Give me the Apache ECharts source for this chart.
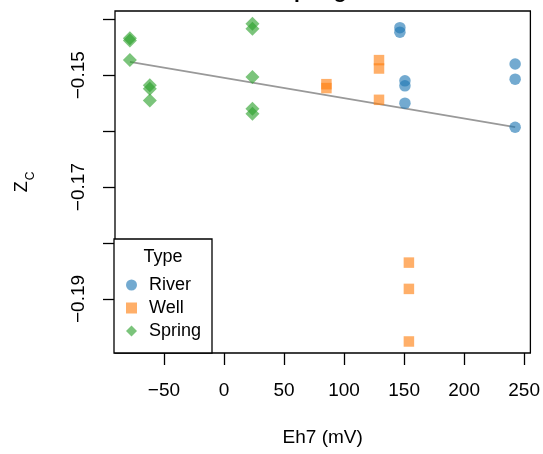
<!DOCTYPE html>
<html>
<head>
<meta charset="utf-8">
<script src="https://cdn.jsdelivr.net/npm/echarts@6/dist/echarts.min.js"></script>
<style>
html,body{margin:0;padding:0;background:#fff;}
#chart{width:543px;height:454px;}
</style>
</head>
<body>
<div id="chart"></div>
<script>
// ---- data ----
const riverX = [146.5, 146.5, 150.7, 150.7, 150.7, 242.5, 242.5, 242.5];
const riverZ = [-0.1415, -0.1423, -0.1510, -0.1519, -0.1550, -0.1480, -0.1507, -0.1593];
const wellX = [85.3, 85.3, 129.1, 129.1, 129.1, 154.0, 154.0, 154.0];
const wellZ = [-0.1516, -0.1523, -0.1473, -0.1488, -0.1544, -0.1835, -0.1882, -0.1976];
const springX = [-78.4, -78.4, -78.4, -61.8, -61.8, -61.8, 23.7, 23.7, 23.7, 23.7, 23.7];
const springZ = [-0.1434, -0.1438, -0.1473, -0.1518, -0.1524, -0.1545, -0.1408, -0.1417, -0.1503, -0.1560, -0.1569];
const fitX = [-78.4, 242.5];
const fitZ = [-0.1476, -0.1593];
const xTicks = [-50, 0, 50, 100, 150, 200, 250];
const yTicks = [-0.19, -0.18, -0.17, -0.16, -0.15, -0.14];
const yLabels = [-0.19, -0.17, -0.15];
const seriesNames = ['River', 'Well', 'Spring'];
const titleText = 'Spring';

const FONT = '"Liberation Sans", Arial, Helvetica, sans-serif';
const minus = v => String(v).replace('-', '\u2212');
const pairs = (xs, ys) => xs.map((x, i) => [x, ys[i]]);

const chart = echarts.init(document.getElementById('chart'));
chart.setOption({
  animation: false,
  backgroundColor: '#fff',
  textStyle: { fontFamily: FONT },
  title: {
    text: titleText, left: 280, top: -18, padding: 0,
    textStyle: { fontSize: 21, fontWeight: 'bold', color: '#000', fontFamily: FONT }
  },
  grid: {
    left: 115, right: 10, top: 11, bottom: 101,
    show: true, borderColor: '#000', borderWidth: 1.3, backgroundColor: 'transparent'
  },
  xAxis: {
    type: 'value', min: -90.8, max: 255.2,
    axisLine: { show: false, onZero: false },
    splitLine: { show: false },
    axisTick: { show: true, inside: false, length: 12, customValues: xTicks, lineStyle: { color: '#000', width: 1.3 } },
    axisLabel: { customValues: xTicks, fontSize: 19, color: '#000', margin: 28, fontFamily: FONT, formatter: minus },
    name: 'Eh7 (mV)', nameLocation: 'middle', nameGap: 75,
    nameTextStyle: { fontSize: 19, color: '#000', fontFamily: FONT }
  },
  yAxis: {
    type: 'value', min: -0.19966, max: -0.13852,
    axisLine: { show: false, onZero: false },
    splitLine: { show: false },
    axisTick: { show: true, inside: false, length: 12, customValues: yTicks, lineStyle: { color: '#000', width: 1.3 } },
    axisLabel: { customValues: yLabels, rotate: 90, fontSize: 19, color: '#000', margin: 27, fontFamily: FONT, formatter: v => minus(v.toFixed(2)) },
    name: '{z|Z}{c|C}', nameLocation: 'middle', nameGap: 82, nameRotate: 90,
    nameTextStyle: {
      color: '#000', fontFamily: FONT,
      rich: {
        z: { fontSize: 18, lineHeight: 20, verticalAlign: 'top', color: '#000', fontFamily: FONT },
        c: { fontSize: 12, lineHeight: 12, padding: [12, 0, 0, 1], verticalAlign: 'top', color: '#000', fontFamily: FONT }
      }
    }
  },
  legend: {
    orient: 'vertical', left: 126, top: 276, padding: 0, z: 10,
    itemWidth: 11, itemHeight: 11, itemGap: 5,
    data: [
      { name: seriesNames[0], icon: 'circle' },
      { name: seriesNames[1], icon: 'rect' },
      { name: seriesNames[2], icon: 'diamond' }
    ],
    textStyle: { fontSize: 18, color: '#000', fontFamily: FONT, padding: [0, 0, 0, 7] }
  },
  graphic: [
    { type: 'rect', shape: { x: 114, y: 239, width: 98, height: 114 },
      style: { fill: '#fff', stroke: '#000', lineWidth: 1.3 }, z: 5, silent: true },
    { type: 'text', x: 163, y: 257, z: 6, silent: true,
      style: { text: 'Type', fontSize: 18, fill: '#000', fontFamily: FONT, align: 'center', verticalAlign: 'middle' } }
  ],
  series: [
    { type: 'line', name: 'fit', data: pairs(fitX, fitZ), symbol: 'none', silent: true,
      lineStyle: { color: '#999', width: 1.8 }, z: 1 },
    { type: 'scatter', name: seriesNames[0], data: pairs(riverX, riverZ), symbol: 'circle', symbolSize: 11.5,
      itemStyle: { color: 'rgba(31,119,180,0.78)' }, z: 2 },
    { type: 'scatter', name: seriesNames[1], data: pairs(wellX, wellZ), symbol: 'rect', symbolSize: 10.5,
      itemStyle: { color: 'rgba(255,127,14,0.78)' }, z: 2 },
    { type: 'scatter', name: seriesNames[2], data: pairs(springX, springZ), symbol: 'diamond', symbolSize: 14,
      itemStyle: { color: 'rgba(44,160,44,0.78)' }, z: 2 }
  ]
});
</script>
</body>
</html>
